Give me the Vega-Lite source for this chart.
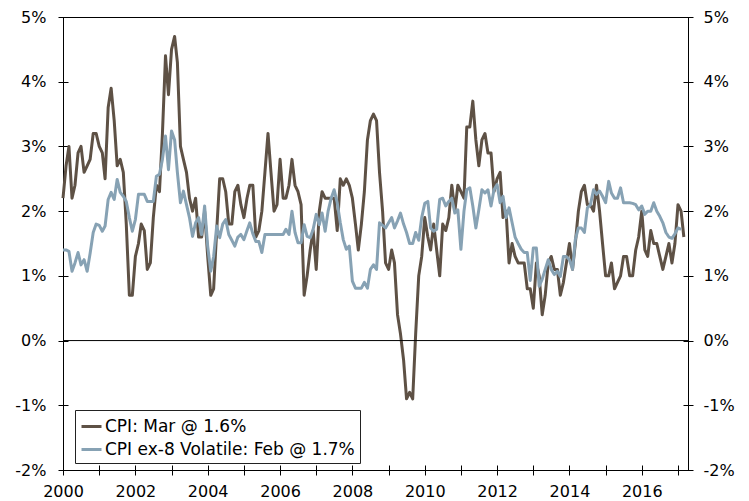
{
  "$schema": "https://vega.github.io/schema/vega-lite/v6.json",
  "width": 625,
  "height": 453,
  "autosize": {"type": "none"},
  "padding": {"left": 63, "top": 17, "right": 61, "bottom": 31},
  "background": "white",
  "config": {
    "view": {"stroke": "black", "strokeWidth": 1},
    "font": "DejaVu Sans",
    "axis": {"labelFont": "DejaVu Sans", "labelColor": "black", "tickColor": "black", "labelFontSize": 16, "grid": false, "domain": false, "title": null}
  },
  "title": {"text": "Year-over-Year Percent Change", "fontSize": 17, "fontWeight": "normal", "font": "DejaVu Sans", "color": "black", "anchor": "middle", "baseline": "alphabetic", "offset": 12},
  "data": {"values": [
    {"d":"2000-01","a":2.2,"b":1.4},{"d":"2000-02","a":2.7,"b":1.4},{"d":"2000-03","a":3.0,"b":1.38},{"d":"2000-04","a":2.2,"b":1.07},{"d":"2000-05","a":2.4,"b":1.2},{"d":"2000-06","a":2.9,"b":1.36},{"d":"2000-07","a":3.0,"b":1.17},{"d":"2000-08","a":2.6,"b":1.25},{"d":"2000-09","a":2.7,"b":1.07},{"d":"2000-10","a":2.8,"b":1.35},{"d":"2000-11","a":3.2,"b":1.67},{"d":"2000-12","a":3.2,"b":1.8},
    {"d":"2001-01","a":3.0,"b":1.78},{"d":"2001-02","a":2.9,"b":1.69},{"d":"2001-03","a":2.5,"b":1.77},{"d":"2001-04","a":3.6,"b":2.18},{"d":"2001-05","a":3.9,"b":2.29},{"d":"2001-06","a":3.4,"b":2.18},{"d":"2001-07","a":2.7,"b":2.49},{"d":"2001-08","a":2.8,"b":2.29},{"d":"2001-09","a":2.6,"b":2.23},{"d":"2001-10","a":1.8,"b":2.15},{"d":"2001-11","a":0.7,"b":1.9},{"d":"2001-12","a":0.7,"b":1.69},
    {"d":"2002-01","a":1.3,"b":1.87},{"d":"2002-02","a":1.5,"b":2.26},{"d":"2002-03","a":1.8,"b":2.26},{"d":"2002-04","a":1.7,"b":2.26},{"d":"2002-05","a":1.1,"b":2.15},{"d":"2002-06","a":1.2,"b":2.15},{"d":"2002-07","a":1.9,"b":2.15},{"d":"2002-08","a":2.4,"b":2.54},{"d":"2002-09","a":2.3,"b":2.57},{"d":"2002-10","a":3.2,"b":2.8},{"d":"2002-11","a":4.4,"b":3.16},{"d":"2002-12","a":3.8,"b":2.64},
    {"d":"2003-01","a":4.5,"b":3.24},{"d":"2003-02","a":4.7,"b":3.1},{"d":"2003-03","a":4.3,"b":2.6},{"d":"2003-04","a":3.0,"b":2.13},{"d":"2003-05","a":2.8,"b":2.31},{"d":"2003-06","a":2.6,"b":2.1},{"d":"2003-07","a":2.2,"b":1.9},{"d":"2003-08","a":2.0,"b":1.61},{"d":"2003-09","a":2.2,"b":1.82},{"d":"2003-10","a":1.6,"b":1.9},{"d":"2003-11","a":1.6,"b":1.64},{"d":"2003-12","a":2.0,"b":2.08},
    {"d":"2004-01","a":1.3,"b":1.46},{"d":"2004-02","a":0.7,"b":1.07},{"d":"2004-03","a":0.8,"b":1.3},{"d":"2004-04","a":1.7,"b":1.77},{"d":"2004-05","a":2.5,"b":1.59},{"d":"2004-06","a":2.5,"b":1.8},{"d":"2004-07","a":2.3,"b":1.87},{"d":"2004-08","a":1.8,"b":1.64},{"d":"2004-09","a":1.8,"b":1.55},{"d":"2004-10","a":2.3,"b":1.46},{"d":"2004-11","a":2.4,"b":1.6},{"d":"2004-12","a":2.1,"b":1.64},
    {"d":"2005-01","a":1.9,"b":1.56},{"d":"2005-02","a":2.2,"b":1.7},{"d":"2005-03","a":2.4,"b":1.82},{"d":"2005-04","a":2.4,"b":1.65},{"d":"2005-05","a":1.6,"b":1.53},{"d":"2005-06","a":1.7,"b":1.53},{"d":"2005-07","a":2.0,"b":1.36},{"d":"2005-08","a":2.6,"b":1.64},{"d":"2005-09","a":3.2,"b":1.64},{"d":"2005-10","a":2.6,"b":1.64},{"d":"2005-11","a":2.0,"b":1.64},{"d":"2005-12","a":2.1,"b":1.64},
    {"d":"2006-01","a":2.8,"b":1.64},{"d":"2006-02","a":2.2,"b":1.64},{"d":"2006-03","a":2.2,"b":1.72},{"d":"2006-04","a":2.4,"b":1.64},{"d":"2006-05","a":2.8,"b":2.0},{"d":"2006-06","a":2.4,"b":1.67},{"d":"2006-07","a":2.3,"b":1.51},{"d":"2006-08","a":2.1,"b":1.51},{"d":"2006-09","a":0.7,"b":1.79},{"d":"2006-10","a":1.0,"b":1.61},{"d":"2006-11","a":1.4,"b":1.59},{"d":"2006-12","a":1.7,"b":1.72},
    {"d":"2007-01","a":1.1,"b":1.95},{"d":"2007-02","a":2.0,"b":1.79},{"d":"2007-03","a":2.3,"b":1.97},{"d":"2007-04","a":2.2,"b":1.69},{"d":"2007-05","a":2.2,"b":2.0},{"d":"2007-06","a":2.2,"b":2.2},{"d":"2007-07","a":2.2,"b":2.33},{"d":"2007-08","a":1.7,"b":2.13},{"d":"2007-09","a":2.5,"b":1.82},{"d":"2007-10","a":2.4,"b":1.56},{"d":"2007-11","a":2.5,"b":1.41},{"d":"2007-12","a":2.4,"b":1.46},
    {"d":"2008-01","a":2.2,"b":0.92},{"d":"2008-02","a":1.8,"b":0.81},{"d":"2008-03","a":1.4,"b":0.81},{"d":"2008-04","a":1.8,"b":0.81},{"d":"2008-05","a":2.3,"b":0.9},{"d":"2008-06","a":3.1,"b":0.81},{"d":"2008-07","a":3.4,"b":1.1},{"d":"2008-08","a":3.5,"b":1.17},{"d":"2008-09","a":3.4,"b":1.1},{"d":"2008-10","a":2.6,"b":1.82},{"d":"2008-11","a":2.0,"b":1.78},{"d":"2008-12","a":1.2,"b":1.74},
    {"d":"2009-01","a":1.1,"b":1.82},{"d":"2009-02","a":1.4,"b":1.9},{"d":"2009-03","a":1.2,"b":1.74},{"d":"2009-04","a":0.4,"b":1.85},{"d":"2009-05","a":0.1,"b":1.97},{"d":"2009-06","a":-0.3,"b":1.8},{"d":"2009-07","a":-0.9,"b":1.67},{"d":"2009-08","a":-0.8,"b":1.5},{"d":"2009-09","a":-0.9,"b":1.5},{"d":"2009-10","a":0.1,"b":1.67},{"d":"2009-11","a":1.0,"b":1.55},{"d":"2009-12","a":1.3,"b":1.9},
    {"d":"2010-01","a":1.9,"b":2.12},{"d":"2010-02","a":1.6,"b":2.15},{"d":"2010-03","a":1.4,"b":1.74},{"d":"2010-04","a":1.8,"b":1.69},{"d":"2010-05","a":1.4,"b":1.72},{"d":"2010-06","a":1.0,"b":2.18},{"d":"2010-07","a":1.8,"b":2.2},{"d":"2010-08","a":1.7,"b":2.08},{"d":"2010-09","a":1.9,"b":2.15},{"d":"2010-10","a":2.4,"b":2.2},{"d":"2010-11","a":2.0,"b":1.97},{"d":"2010-12","a":2.4,"b":2.02},
    {"d":"2011-01","a":2.3,"b":1.41},{"d":"2011-02","a":2.2,"b":2.0},{"d":"2011-03","a":3.3,"b":2.33},{"d":"2011-04","a":3.3,"b":2.36},{"d":"2011-05","a":3.7,"b":2.08},{"d":"2011-06","a":3.1,"b":1.74},{"d":"2011-07","a":2.7,"b":2.02},{"d":"2011-08","a":3.1,"b":2.33},{"d":"2011-09","a":3.2,"b":2.28},{"d":"2011-10","a":2.9,"b":2.33},{"d":"2011-11","a":2.9,"b":2.08},{"d":"2011-12","a":2.3,"b":2.33},
    {"d":"2012-01","a":2.5,"b":2.41},{"d":"2012-02","a":2.6,"b":2.13},{"d":"2012-03","a":1.9,"b":2.23},{"d":"2012-04","a":2.0,"b":1.9},{"d":"2012-05","a":1.2,"b":2.05},{"d":"2012-06","a":1.5,"b":1.82},{"d":"2012-07","a":1.3,"b":1.6},{"d":"2012-08","a":1.2,"b":1.5},{"d":"2012-09","a":1.2,"b":1.41},{"d":"2012-10","a":1.2,"b":1.36},{"d":"2012-11","a":0.8,"b":1.36},{"d":"2012-12","a":0.8,"b":0.93},
    {"d":"2013-01","a":0.5,"b":1.43},{"d":"2013-02","a":1.2,"b":1.43},{"d":"2013-03","a":1.0,"b":0.84},{"d":"2013-04","a":0.4,"b":0.95},{"d":"2013-05","a":0.7,"b":1.1},{"d":"2013-06","a":1.2,"b":1.25},{"d":"2013-07","a":1.3,"b":1.1},{"d":"2013-08","a":1.1,"b":1.02},{"d":"2013-09","a":1.1,"b":1.07},{"d":"2013-10","a":0.7,"b":0.99},{"d":"2013-11","a":0.9,"b":1.3},{"d":"2013-12","a":1.2,"b":1.3},
    {"d":"2014-01","a":1.5,"b":1.25},{"d":"2014-02","a":1.1,"b":1.1},{"d":"2014-03","a":1.5,"b":1.56},{"d":"2014-04","a":2.0,"b":1.74},{"d":"2014-05","a":2.3,"b":1.74},{"d":"2014-06","a":2.4,"b":1.67},{"d":"2014-07","a":2.1,"b":2.05},{"d":"2014-08","a":2.1,"b":2.1},{"d":"2014-09","a":2.0,"b":2.33},{"d":"2014-10","a":2.4,"b":2.26},{"d":"2014-11","a":2.0,"b":2.31},{"d":"2014-12","a":1.5,"b":2.23},
    {"d":"2015-01","a":1.0,"b":2.13},{"d":"2015-02","a":1.0,"b":2.46},{"d":"2015-03","a":1.2,"b":2.28},{"d":"2015-04","a":0.8,"b":2.2},{"d":"2015-05","a":0.9,"b":2.2},{"d":"2015-06","a":1.0,"b":2.36},{"d":"2015-07","a":1.3,"b":2.13},{"d":"2015-08","a":1.3,"b":2.13},{"d":"2015-09","a":1.0,"b":2.13},{"d":"2015-10","a":1.0,"b":2.12},{"d":"2015-11","a":1.4,"b":2.1},{"d":"2015-12","a":1.6,"b":2.02},
    {"d":"2016-01","a":2.0,"b":2.08},{"d":"2016-02","a":1.4,"b":1.95},{"d":"2016-03","a":1.3,"b":2.0},{"d":"2016-04","a":1.7,"b":2.0},{"d":"2016-05","a":1.5,"b":2.13},{"d":"2016-06","a":1.5,"b":2.0},{"d":"2016-07","a":1.3,"b":1.92},{"d":"2016-08","a":1.1,"b":1.82},{"d":"2016-09","a":1.3,"b":1.67},{"d":"2016-10","a":1.5,"b":1.6},{"d":"2016-11","a":1.2,"b":1.58},{"d":"2016-12","a":1.5,"b":1.65},
    {"d":"2017-01","a":2.1,"b":1.74},{"d":"2017-02","a":2.0,"b":1.72},{"d":"2017-03","a":1.6,"b":null}
  ]},
  "layer": [
    {
      "transform": [{"fold": ["a", "b"], "as": ["k", "v"]}],
      "mark": {"type": "line", "strokeWidth": 3, "strokeJoin": "round"},
      "encoding": {
        "x": {"field": "d", "type": "temporal",
              "scale": {"type": "utc", "domain": [{"year": 2000, "month": 1, "date": 1, "utc": true}, {"year": 2017, "month": 4, "date": 12, "utc": true}]},
              "axis": {"orient": "bottom", "tickCount": {"interval": "year", "step": 1}, "labelExpr": "utcyear(datum.value) % 2 == 0 ? utcFormat(datum.value, '%Y') : ''", "labelOverlap": false, "labelFlush": false, "offset": -5, "tickSize": 10, "labelPadding": 8}},
        "y": {"field": "v", "type": "quantitative", "scale": {"domain": [-2, 5], "nice": false, "zero": false},
              "axis": {"orient": "left", "values": [-2, -1, 0, 1, 2, 3, 4, 5], "labelExpr": "datum.value + '%'", "offset": -5, "tickSize": 10, "labelPadding": 12}},
        "color": {"field": "k", "type": "nominal", "scale": {"domain": ["a", "b"], "range": ["#5e5145", "#87a2b4"]},
                  "legend": {"orient": "none", "legendX": 12, "legendY": 393, "title": null, "labelExpr": "datum.label == 'a' ? 'CPI: Mar @ 1.6%' : 'CPI ex-8 Volatile: Feb @ 1.7%'", "labelFontSize": 17, "labelLimit": 400, "labelColor": "black", "labelFont": "DejaVu Sans", "symbolType": "stroke", "symbolStrokeWidth": 3, "symbolSize": 400, "labelOffset": 2, "rowPadding": 3, "padding": 5, "strokeColor": "#222222", "fillColor": "white", "cornerRadius": 0}}
      }
    },
    {
      "data": {"values": [{"z": 0}]},
      "mark": {"type": "rule", "color": "black", "strokeWidth": 1},
      "encoding": {
        "y": {"field": "z", "type": "quantitative", "scale": {"domain": [-2, 5], "nice": false, "zero": false},
              "axis": {"orient": "right", "values": [-2, -1, 0, 1, 2, 3, 4, 5], "labelExpr": "datum.value + '%'", "offset": -5, "tickSize": 10, "labelPadding": 10}}
      }
    }
  ],
  "resolve": {"scale": {"y": "independent"}, "axis": {"y": "independent"}}
}
